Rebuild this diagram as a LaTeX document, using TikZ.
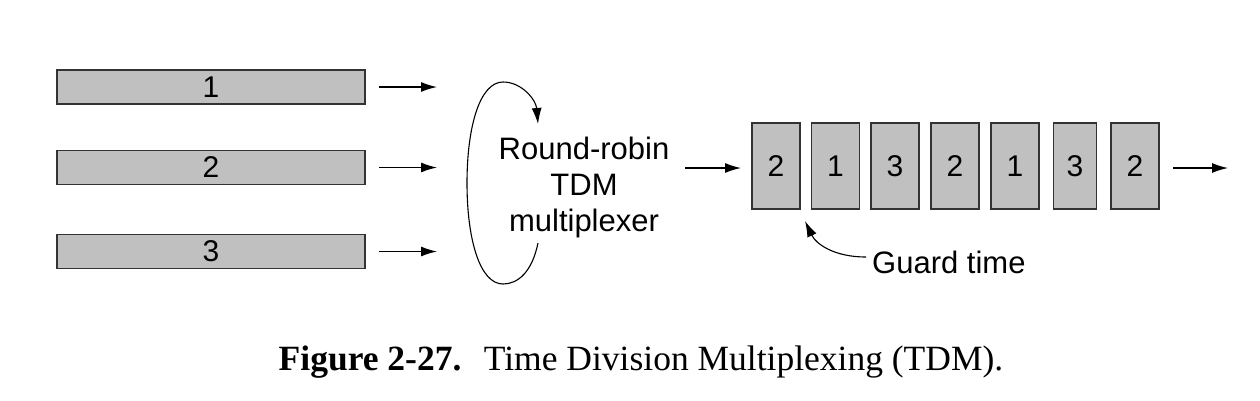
\documentclass[tikz,border=0pt]{standalone}
\usepackage{fontspec}
\setmainfont{Liberation Serif}
\newfontfamily\arialf{Liberation Sans}
\usetikzlibrary{arrows.meta}
\definecolor{slotgray}{HTML}{C0C0C0}
\begin{document}
\begin{tikzpicture}[x=1pt,y=-1pt,
  lbl/.style={font=\arialf\fontsize{31}{36}\selectfont, inner sep=0pt},
  bar/.style={draw=black!80, line width=1.2pt, fill=slotgray, minimum width=308pt, minimum height=34pt, inner sep=0pt, anchor=center, font=\arialf\fontsize{30}{30}\selectfont},
  slot/.style={draw=black!80, line width=1.2pt, fill=slotgray, minimum width=48pt, minimum height=86pt, inner sep=0pt, font=\arialf\fontsize{30}{30}\selectfont},
  tip/.style={-{Latex[length=16pt,width=10pt]}},
  arr/.style={line width=1.3pt, tip},
  ln/.style={line width=1.1pt}]
\useasboundingbox (0,0) rectangle (1260,400);
% input bars
\node[bar] (b1) at (211,87) {1};
\node[bar] (b2) at (211,167.5) {2};
\node[bar] (b3) at (211,251.5) {3};
\coordinate (a1s) at (379,87);   \coordinate (a1e) at (437,87);
\coordinate (a2s) at (379,167.5); \coordinate (a2e) at (437,167.5);
\coordinate (a3s) at (379,251.5); \coordinate (a3e) at (437,251.5);
\draw[arr] (a1s) -- (a1e);
\draw[arr] (a2s) -- (a2e);
\draw[arr] (a3s) -- (a3e);
% multiplexer
\node[lbl, align=center] (mux) at (584,187) {Round-robin\\TDM\\multiplexer};
\coordinate (ls) at (538,243);
\coordinate (lb) at (503,284);
\coordinate (ll) at (467,183);
\coordinate (lt) at (503,82);
\coordinate (le) at (538,124);
\draw[ln, tip] (ls) .. controls (532,272) and (518,284) .. (lb)
  .. controls (480,284) and (467,240) .. (ll)
  .. controls (467,126) and (480,82) .. (lt)
  .. controls (522,82) and (536,100) .. (le);
\coordinate (ms) at (685,168); \coordinate (me) at (741,168);
\draw[arr] (ms) -- (me);
% slots
\node[slot] (s1) at (776,166) {2};
\node[slot] (s2) at (835.5,166) {1};
\node[slot] (s3) at (895,166) {3};
\node[slot] (s4) at (955,166) {2};
\node[slot] (s5) at (1015,166) {1};
\node[slot, minimum width=43pt] (s6) at (1075,166) {3};
\node[slot] (s7) at (1135,166) {2};
\coordinate (os) at (1173,168); \coordinate (oe) at (1228,168);
\draw[arr] (os) -- (oe);
% guard time
\node[lbl, anchor=west] (gt) at (872,262) {Guard time};
\coordinate (gs) at (866,257);
\coordinate (gp) at (805,221);
\draw[ln, tip] (gs) .. controls (834,257) and (816,244) .. (gp);
% caption
\node[inner sep=0pt, anchor=base, font=\fontsize{35.5}{38}\selectfont] (cap) at (641,370) {\textbf{Figure 2-27.}\hspace{0.3em} Time Division Multiplexing (TDM).};
\end{tikzpicture}
\end{document}
